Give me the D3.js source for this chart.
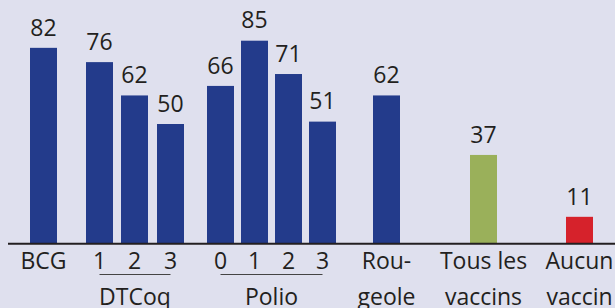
<!DOCTYPE html>
<html>
<head>
<meta charset="utf-8">
<script src="https://cdn.jsdelivr.net/npm/d3@7"></script>
<style>
  body { margin: 0; background: #dfe0ee; }
  svg { display: block; font-family: "Open Sans", sans-serif; }
</style>
</head>
<body>
<div id="chart"></div>
<script>
// data
var keys = ['BCG', 'D1', 'D2', 'D3', 'P0', 'P1', 'P2', 'P3', 'ROU', 'TOUS', 'AUCUN'];
var values = [82, 76, 62, 50, 66, 85, 71, 51, 62, 37, 11];
var tickLabels = [['BCG'], ['1'], ['2'], ['3'], ['0'], ['1'], ['2'], ['3'],
    ['Rou-', 'geole'], ['Tous les', 'vaccins'], ['Aucun', 'vaccin']];
var barKind = ['vac', 'vac', 'vac', 'vac', 'vac', 'vac', 'vac', 'vac', 'vac', 'all', 'none'];
var groups = [
    { name: 'DTCoq', from: 'D1', to: 'D3' },
    { name: 'Polio', from: 'P0', to: 'P3' }
];

var width = 615, height = 308;
var baseY = 243;
var barW = 27;
var fs = 23;

var svg = d3.select('#chart').append('svg')
    .attr('width', width)
    .attr('height', height);

// irregular layout of the slots
var x = d3.scaleOrdinal()
    .domain(keys)
    .range([43.5, 99.5, 134.5, 170.5, 220.5, 254.5, 288.5, 322.5, 386.5, 483.5, 579.5]);

var y = d3.scaleLinear()
    .domain([0, 100])
    .range([baseY, 5]);

var color = d3.scaleOrdinal()
    .domain(['vac', 'all', 'none'])
    .range(['#233b8b', '#9ab05a', '#d6222b']);

var data = keys.map(function (k, i) {
    return { key: k, value: values[i], label: tickLabels[i], kind: barKind[i] };
});

svg.selectAll('rect.bar').data(data)
    .enter().append('rect')
    .attr('class', 'bar')
    .attr('x', d => x(d.key) - barW / 2)
    .attr('y', d => y(d.value))
    .attr('width', barW)
    .attr('height', d => y(0) - y(d.value))
    .attr('fill', d => color(d.kind));

svg.selectAll('text.val').data(data)
    .enter().append('text')
    .attr('class', 'val')
    .attr('x', d => x(d.key))
    .attr('y', d => y(d.value) - 12.3)
    .attr('text-anchor', 'middle')
    .attr('font-size', fs)
    .attr('fill', '#231f20')
    .text(d => d.value);

// baseline
svg.append('line')
    .attr('x1', 8).attr('x2', width)
    .attr('y1', y(0) + 0.7).attr('y2', y(0) + 0.7)
    .attr('stroke', '#231f20')
    .attr('stroke-width', 2);

// category labels
var lab = svg.selectAll('text.cat').data(data)
    .enter().append('text')
    .attr('class', 'cat')
    .attr('x', d => x(d.key))
    .attr('y', 268.5)
    .attr('text-anchor', 'middle')
    .attr('font-size', fs)
    .attr('fill', '#231f20');

lab.selectAll('tspan').data(d => d.label.map(t => ({ t: t, cx: x(d.key) })))
    .enter().append('tspan')
    .attr('x', d => d.cx)
    .attr('dy', (d, i) => i ? 36.5 : 0)
    .text(d => d.t);

// group brackets
var g = svg.selectAll('g.grp').data(groups)
    .enter().append('g')
    .attr('class', 'grp');

g.append('line')
    .attr('x1', d => x(d.from))
    .attr('x2', d => x(d.to))
    .attr('y1', 274.5).attr('y2', 274.5)
    .attr('stroke', '#444')
    .attr('stroke-width', 1);

g.append('text')
    .attr('x', d => (x(d.from) + x(d.to)) / 2)
    .attr('y', 304.5)
    .attr('text-anchor', 'middle')
    .attr('font-size', fs)
    .attr('fill', '#231f20')
    .text(d => d.name);
</script>
</body>
</html>
